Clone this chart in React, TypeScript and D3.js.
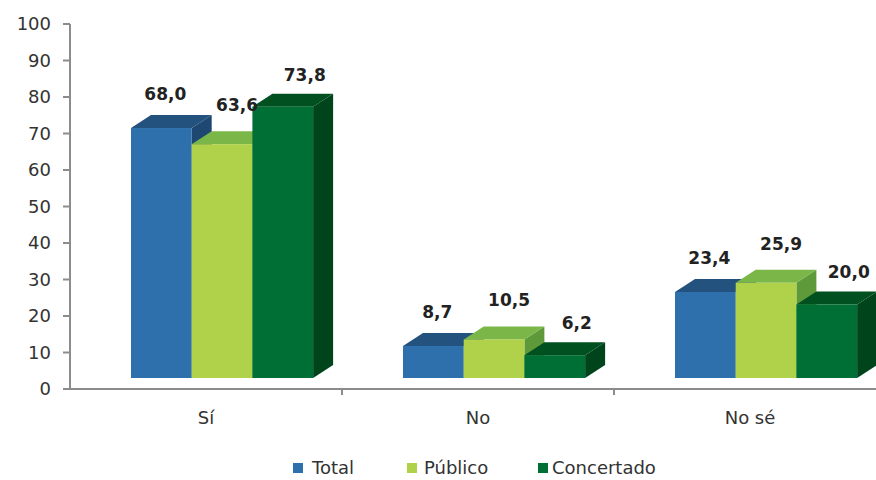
import React from "react";
import * as d3 from "d3";

const categories = ["Sí", "No", "No sé"];
const seriesNames = ["Total", "Público", "Concertado"];
const totalValues = [68.0, 8.7, 23.4];
const publicoValues = [63.6, 10.5, 25.9];
const concertadoValues = [73.8, 6.2, 20.0];
const yTicks = [0, 10, 20, 30, 40, 50, 60, 70, 80, 90, 100];

const seriesValues = [totalValues, publicoValues, concertadoValues];
const colors = [
  { front: "#2D70AC", top: "#23527F", side: "#1E4872" },
  { front: "#B0D14A", top: "#7AB648", side: "#5E9A3A" },
  { front: "#006F36", top: "#00511F", side: "#00441C" },
];
// per-series label placement offsets (style)
const labelDx = [4, 15, 22];
const labelDy = [-28, -33, -26];

const W = 876;
const H = 480;
const fmt = (v: number) => v.toFixed(1).replace(".", ",");

export default function App() {
  const axisX = 70;
  const x = d3.scaleBand().domain(categories).range([axisX, axisX + 272 * 3]).paddingInner(0).paddingOuter(0);
  const y = d3.scaleLinear().domain([0, 100]).range([389, 24]);
  // bar scale (front face floor is raised by the 3D floor)
  const yb = d3.scaleLinear().domain([0, 100]).range([378, 10.4]);
  const barW = 60.7;
  const frontOffset = 61;
  const dx = 20;
  const dy = 13;
  const font = "DejaVu Sans, sans-serif";

  const bars: React.ReactNode[] = [];
  const labels: React.ReactNode[] = [];
  categories.forEach((c, ci) => {
    const gx = (x(c) as number) + frontOffset;
    for (let si = 0; si < seriesValues.length; si++) {
      const v = seriesValues[si][ci];
      const x0 = gx + si * barW;
      const x1 = x0 + barW;
      const yTop = yb(v);
      const yBot = yb(0);
      const col = colors[si];
      bars.push(
        <g key={`b${ci}-${si}`}>
          <polygon
            points={`${x1},${yBot} ${x1 + dx},${yBot - dy} ${x1 + dx},${yTop - dy} ${x1},${yTop}`}
            fill={col.side}
          />
          <polygon
            points={`${x0},${yTop} ${x0 + dx},${yTop - dy} ${x1 + dx},${yTop - dy} ${x1},${yTop}`}
            fill={col.top}
          />
          <rect x={x0} y={yTop} width={barW} height={yBot - yTop} fill={col.front} />
        </g>
      );
      labels.push(
        <text
          key={`l${ci}-${si}`}
          x={x0 + barW / 2 + labelDx[si]}
          y={yTop + labelDy[si]}
          textAnchor="middle"
          fontFamily={font}
          fontWeight="bold"
          fontSize={17}
          fill="#222"
        >
          {fmt(v)}
        </text>
      );
    }
  });

  const legendItems = [
    { sx: 293, tx: 312 },
    { sx: 407, tx: 424 },
    { sx: 538, tx: 552 },
  ];

  return (
    <svg width={W} height={H} style={{ position: "absolute", left: 0, top: 0, background: "#fff" }}>
      {/* y axis */}
      <line x1={axisX} y1={y(100)} x2={axisX} y2={y(0)} stroke="#8C8C8C" strokeWidth={2} />
      {yTicks.map((t) => (
        <g key={t}>
          <line x1={axisX - 7} x2={axisX} y1={y(t)} y2={y(t)} stroke="#8C8C8C" strokeWidth={2} />
          <text
            x={51}
            y={y(t)}
            dy="0.35em"
            textAnchor="end"
            fontFamily={font}
            fontSize={18}
            fill="#333"
          >
            {t}
          </text>
        </g>
      ))}
      {/* x axis */}
      <line x1={axisX - 7} x2={W} y1={y(0)} y2={y(0)} stroke="#8C8C8C" strokeWidth={2} />
      {categories.map((c, i) =>
        i > 0 ? (
          <line
            key={`t${c}`}
            x1={x(c) as number}
            x2={x(c) as number}
            y1={y(0)}
            y2={y(0) + 6}
            stroke="#8C8C8C"
            strokeWidth={2}
          />
        ) : null
      )}
      {bars}
      {labels}
      {categories.map((c) => (
        <text
          key={`c${c}`}
          x={(x(c) as number) + x.bandwidth() / 2}
          y={424}
          textAnchor="middle"
          fontFamily={font}
          fontSize={18}
          fill="#333"
        >
          {c}
        </text>
      ))}
      {seriesNames.map((n, i) => (
        <g key={n}>
          <rect x={legendItems[i].sx} y={463} width={10} height={10} fill={colors[i].front} />
          <text x={legendItems[i].tx} y={468} dy="0.35em" fontFamily={font} fontSize={18} fill="#333">
            {n}
          </text>
        </g>
      ))}
    </svg>
  );
}
